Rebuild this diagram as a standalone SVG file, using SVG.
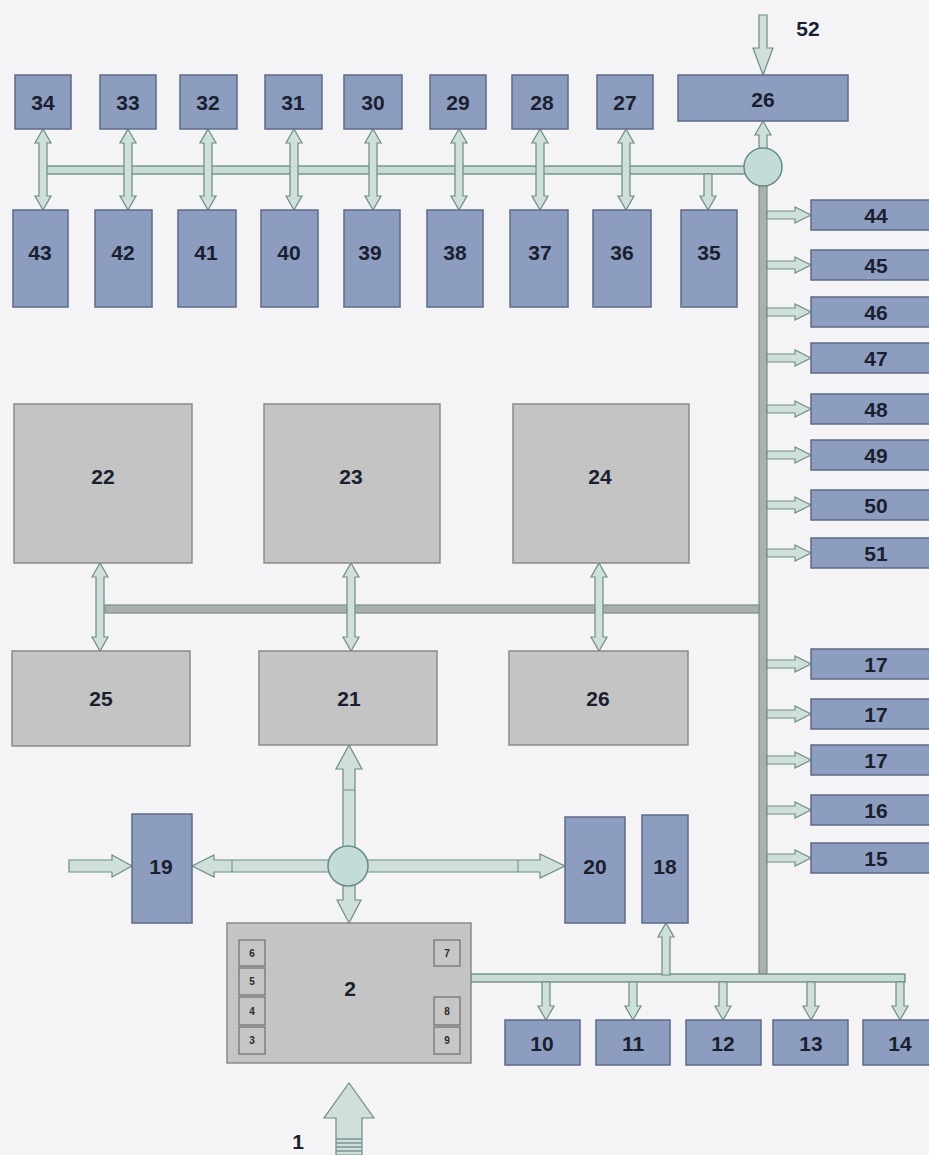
<svg xmlns="http://www.w3.org/2000/svg" xmlns:xlink="http://www.w3.org/1999/xlink" width="929" height="1155" viewBox="0 0 929 1155">
<style>
.b{fill:#8d9dbf;stroke:#5e6a86;stroke-width:1.5}
.g{fill:#c4c4c4;stroke:#8a8a8a;stroke-width:1.5}
.s{fill:#c6c6c6;stroke:#6f6f6f;stroke-width:1.2}
.t{font-family:"Liberation Sans",Arial,sans-serif;font-weight:bold;font-size:21px;fill:#1a1f30;text-anchor:middle;dominant-baseline:central}
.ts{font-family:"Liberation Sans",Arial,sans-serif;font-weight:bold;font-size:10px;fill:#2a2a2a;text-anchor:middle;dominant-baseline:central}
.a{fill:#cfe0dc;stroke:#6d8c84;stroke-width:1.2;stroke-linejoin:miter}
.bus{fill:#c9dcd8;stroke:#5f8078;stroke-width:1.2}
.busg{fill:#a9b0ad;stroke:#7a9088;stroke-width:1.2}
.hub{fill:#c3dcd8;stroke:#6a8c86;stroke-width:1.5}
</style>
<defs>
<path id="dt" class="a" d="M0,129 L8,143 L4,143 L4,196 L8,196 L0,210 L-8,196 L-4,196 L-4,143 L-8,143 Z"/>
<path id="dm" class="a" d="M0,563 L8,577 L4,577 L4,637 L8,637 L0,651 L-8,637 L-4,637 L-4,577 L-8,577 Z"/>
<path id="ar" class="a" d="M767,-4 L795,-4 L795,-8 L811,0 L795,8 L795,4 L767,4 Z"/>
<path id="ad" class="a" d="M-4,982 L4,982 L4,1006 L8,1006 L0,1020 L-8,1006 L-4,1006 Z"/>
</defs>
<rect width="929" height="1155" fill="#f4f4f6"/>

<g id="connectors">
<rect class="bus" x="40" y="166" width="710" height="8"/>
<rect class="busg" x="759" y="184" width="8" height="794"/>
<rect class="busg" x="105" y="605" width="654" height="8"/>
<rect class="bus" x="471" y="974" width="434" height="8"/>
<use xlink:href="#dt" transform="translate(43,0)"/>
<use xlink:href="#dt" transform="translate(128,0)"/>
<use xlink:href="#dt" transform="translate(208,0)"/>
<use xlink:href="#dt" transform="translate(294,0)"/>
<use xlink:href="#dt" transform="translate(373,0)"/>
<use xlink:href="#dt" transform="translate(459,0)"/>
<use xlink:href="#dt" transform="translate(540,0)"/>
<use xlink:href="#dt" transform="translate(626,0)"/>
<path class="a" d="M704,174 L712,174 L712,196 L716,196 L708,210 L700,196 L704,196 Z"/>
<path class="a" d="M763,121 L771,135 L767,135 L767,150 L759,150 L759,135 L755,135 Z"/>
<path class="a" d="M759,15 L767,15 L767,48 L773,48 L763,75 L753,48 L759,48 Z"/>
<use xlink:href="#ar" transform="translate(0,215)"/>
<use xlink:href="#ar" transform="translate(0,265)"/>
<use xlink:href="#ar" transform="translate(0,312)"/>
<use xlink:href="#ar" transform="translate(0,358)"/>
<use xlink:href="#ar" transform="translate(0,409)"/>
<use xlink:href="#ar" transform="translate(0,455)"/>
<use xlink:href="#ar" transform="translate(0,505)"/>
<use xlink:href="#ar" transform="translate(0,553)"/>
<use xlink:href="#ar" transform="translate(0,664)"/>
<use xlink:href="#ar" transform="translate(0,714)"/>
<use xlink:href="#ar" transform="translate(0,760)"/>
<use xlink:href="#ar" transform="translate(0,810)"/>
<use xlink:href="#ar" transform="translate(0,858)"/>
<use xlink:href="#dm" transform="translate(100,0)"/>
<use xlink:href="#dm" transform="translate(351,0)"/>
<use xlink:href="#dm" transform="translate(599,0)"/>
<use xlink:href="#ad" transform="translate(546,0)"/>
<use xlink:href="#ad" transform="translate(633,0)"/>
<use xlink:href="#ad" transform="translate(723,0)"/>
<use xlink:href="#ad" transform="translate(811,0)"/>
<use xlink:href="#ad" transform="translate(900,0)"/>
<path class="a" d="M666,923 L674,937 L670,937 L670,975 L662,975 L662,937 L658,937 Z"/>
<path class="a" d="M349,745 L362,769 L355,769 L355,848 L343,848 L343,769 L336,769 Z"/>
<line x1="343" y1="790" x2="355" y2="790" stroke="#6d8c84" stroke-width="1"/>
<path class="a" d="M343,884 L355,884 L355,900 L361,900 L349,923 L337,900 L343,900 Z"/>
<path class="a" d="M192,866 L214,855 L214,860 L330,860 L330,872 L214,872 L214,877 Z"/>
<line x1="232" y1="860" x2="232" y2="872" stroke="#6d8c84" stroke-width="1"/>
<path class="a" d="M565,866 L540,854 L540,860 L366,860 L366,872 L540,872 L540,878 Z"/>
<line x1="518" y1="860" x2="518" y2="872" stroke="#6d8c84" stroke-width="1"/>
<path class="a" d="M69,860 L112,860 L112,855 L132,866 L112,877 L112,872 L69,872 Z"/>
<circle class="hub" cx="763" cy="167" r="19"/>
<circle class="hub" cx="348" cy="866" r="20"/>
<path class="a" d="M349,1083 L374,1118 L362,1118 L362,1155 L336,1155 L336,1118 L324,1118 Z"/>
<g stroke="#7e9590" stroke-width="1.5">
<line x1="336" y1="1139" x2="362" y2="1139"/>
<line x1="336" y1="1143" x2="362" y2="1143"/>
<line x1="336" y1="1147" x2="362" y2="1147"/>
<line x1="336" y1="1151" x2="362" y2="1151"/>
</g>
</g>

<g id="n34"><rect class="b" x="15" y="75" width="56" height="54"/><text class="t" x="43" y="102">34</text></g>
<g id="n33"><rect class="b" x="100" y="75" width="56" height="54"/><text class="t" x="128" y="102">33</text></g>
<g id="n32"><rect class="b" x="180" y="75" width="57" height="54"/><text class="t" x="208" y="102">32</text></g>
<g id="n31"><rect class="b" x="265" y="75" width="57" height="54"/><text class="t" x="293" y="102">31</text></g>
<g id="n30"><rect class="b" x="344" y="75" width="58" height="54"/><text class="t" x="373" y="102">30</text></g>
<g id="n29"><rect class="b" x="430" y="75" width="56" height="54"/><text class="t" x="458" y="102">29</text></g>
<g id="n28"><rect class="b" x="512" y="75" width="56" height="54"/><text class="t" x="542" y="102">28</text></g>
<g id="n27"><rect class="b" x="597" y="75" width="56" height="54"/><text class="t" x="625" y="102">27</text></g>
<g id="n26a"><rect class="b" x="678" y="75" width="170" height="46"/><text class="t" x="763" y="99">26</text></g>
<g id="n52"><text class="t" x="808" y="28">52</text></g>

<g id="n43"><rect class="b" x="13" y="210" width="55" height="97"/><text class="t" x="40" y="252">43</text></g>
<g id="n42"><rect class="b" x="95" y="210" width="57" height="97"/><text class="t" x="123" y="252">42</text></g>
<g id="n41"><rect class="b" x="178" y="210" width="58" height="97"/><text class="t" x="206" y="252">41</text></g>
<g id="n40"><rect class="b" x="261" y="210" width="57" height="97"/><text class="t" x="289" y="252">40</text></g>
<g id="n39"><rect class="b" x="344" y="210" width="56" height="97"/><text class="t" x="370" y="252">39</text></g>
<g id="n38"><rect class="b" x="427" y="210" width="56" height="97"/><text class="t" x="455" y="252">38</text></g>
<g id="n37"><rect class="b" x="510" y="210" width="58" height="97"/><text class="t" x="540" y="252">37</text></g>
<g id="n36"><rect class="b" x="593" y="210" width="58" height="97"/><text class="t" x="622" y="252">36</text></g>
<g id="n35"><rect class="b" x="681" y="210" width="56" height="97"/><text class="t" x="709" y="252">35</text></g>

<g id="n44"><rect class="b" x="811" y="200" width="125" height="30"/><text class="t" x="876" y="215">44</text></g>
<g id="n45"><rect class="b" x="811" y="250" width="125" height="30"/><text class="t" x="876" y="265">45</text></g>
<g id="n46"><rect class="b" x="811" y="297" width="125" height="30"/><text class="t" x="876" y="312">46</text></g>
<g id="n47"><rect class="b" x="811" y="343" width="125" height="30"/><text class="t" x="876" y="358">47</text></g>
<g id="n48"><rect class="b" x="811" y="394" width="125" height="30"/><text class="t" x="876" y="409">48</text></g>
<g id="n49"><rect class="b" x="811" y="440" width="125" height="30"/><text class="t" x="876" y="455">49</text></g>
<g id="n50"><rect class="b" x="811" y="490" width="125" height="30"/><text class="t" x="876" y="505">50</text></g>
<g id="n51"><rect class="b" x="811" y="538" width="125" height="30"/><text class="t" x="876" y="553">51</text></g>
<g id="n17a"><rect class="b" x="811" y="649" width="125" height="30"/><text class="t" x="876" y="664">17</text></g>
<g id="n17b"><rect class="b" x="811" y="699" width="125" height="30"/><text class="t" x="876" y="714">17</text></g>
<g id="n17c"><rect class="b" x="811" y="745" width="125" height="30"/><text class="t" x="876" y="760">17</text></g>
<g id="n16"><rect class="b" x="811" y="795" width="125" height="30"/><text class="t" x="876" y="810">16</text></g>
<g id="n15"><rect class="b" x="811" y="843" width="125" height="30"/><text class="t" x="876" y="858">15</text></g>

<g id="n22"><rect class="g" x="14" y="404" width="178" height="159"/><text class="t" x="103" y="476">22</text></g>
<g id="n23"><rect class="g" x="264" y="404" width="176" height="159"/><text class="t" x="351" y="476">23</text></g>
<g id="n24"><rect class="g" x="513" y="404" width="176" height="159"/><text class="t" x="600" y="476">24</text></g>
<g id="n25"><rect class="g" x="12" y="651" width="178" height="95"/><text class="t" x="101" y="698">25</text></g>
<g id="n21"><rect class="g" x="259" y="651" width="178" height="94"/><text class="t" x="349" y="698">21</text></g>
<g id="n26b"><rect class="g" x="509" y="651" width="179" height="94"/><text class="t" x="598" y="698">26</text></g>

<g id="n19"><rect class="b" x="132" y="814" width="60" height="109"/><text class="t" x="161" y="866">19</text></g>
<g id="n20"><rect class="b" x="565" y="817" width="60" height="106"/><text class="t" x="595" y="866">20</text></g>
<g id="n18"><rect class="b" x="642" y="815" width="46" height="108"/><text class="t" x="665" y="866">18</text></g>

<g id="n2">
<rect class="g" x="227" y="923" width="244" height="140"/>
<text class="t" x="350" y="988">2</text>
<rect class="s" x="239" y="940" width="26" height="26"/><text class="ts" x="252" y="953">6</text>
<rect class="s" x="239" y="968" width="26" height="27"/><text class="ts" x="252" y="981">5</text>
<rect class="s" x="239" y="997" width="26" height="28"/><text class="ts" x="252" y="1011">4</text>
<rect class="s" x="239" y="1027" width="26" height="27"/><text class="ts" x="252" y="1040">3</text>
<rect class="s" x="434" y="940" width="26" height="26"/><text class="ts" x="447" y="953">7</text>
<rect class="s" x="434" y="997" width="26" height="28"/><text class="ts" x="447" y="1011">8</text>
<rect class="s" x="434" y="1027" width="26" height="27"/><text class="ts" x="447" y="1040">9</text>
</g>

<g id="n10"><rect class="b" x="505" y="1020" width="75" height="45"/><text class="t" x="542" y="1043">10</text></g>
<g id="n11"><rect class="b" x="596" y="1020" width="74" height="45"/><text class="t" x="633" y="1043">11</text></g>
<g id="n12"><rect class="b" x="686" y="1020" width="75" height="45"/><text class="t" x="723" y="1043">12</text></g>
<g id="n13"><rect class="b" x="773" y="1020" width="75" height="45"/><text class="t" x="811" y="1043">13</text></g>
<g id="n14"><rect class="b" x="863" y="1020" width="75" height="45"/><text class="t" x="900" y="1043">14</text></g>
<g id="n1"><text class="t" x="298" y="1141">1</text></g>
</svg>
